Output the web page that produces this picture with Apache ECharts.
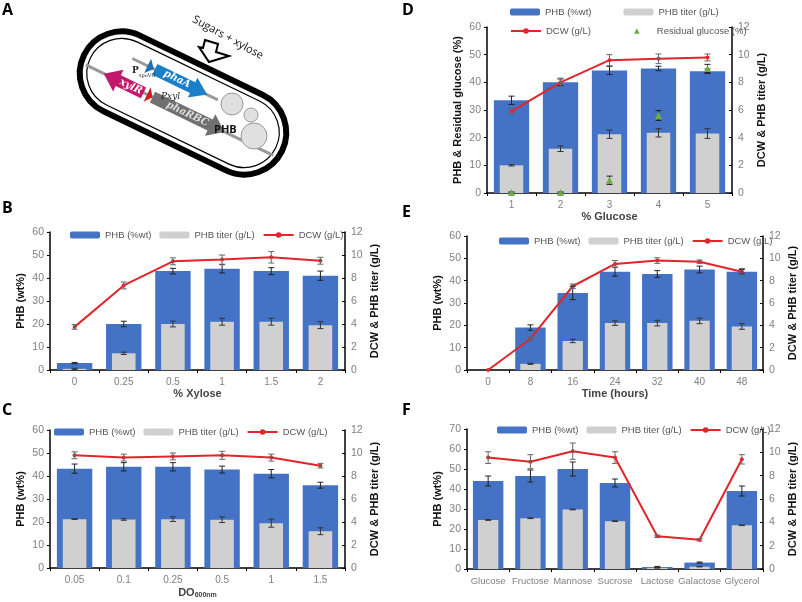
<!DOCTYPE html>
<html>
<head>
<meta charset="utf-8">
<script src="https://cdn.jsdelivr.net/npm/echarts@6/dist/echarts.min.js"></script>
<style>
html, body { margin: 0; padding: 0; background: #fff; }
#main { width: 802px; height: 602px; }
</style>
</head>
<body>
<div id="main"></div>
<script>
// panel B: % xylose
var xyloseCats = ['0', '0.25', '0.5', '1', '1.5', '2'];
var xylosePhb = [3, 20, 43, 44, 43, 41];
var xylosePhbErr = [0.3, 1.2, 1.2, 1.8, 1.5, 2];
var xyloseTiter = [0.1, 1.45, 4.0, 4.2, 4.2, 3.9];
var xyloseTiterErr = [0.05, 0.1, 0.25, 0.3, 0.3, 0.3];
var xyloseDcw = [3.75, 7.35, 9.45, 9.6, 9.8, 9.5];
var xyloseDcwErr = [0.2, 0.3, 0.3, 0.4, 0.5, 0.3];

// panel C: inoculum DO600nm
var doCats = ['0.05', '0.1', '0.25', '0.5', '1', '1.5'];
var doPhb = [43.2, 44, 44, 42.8, 41, 36];
var doPhbErr = [2, 1.8, 1.8, 1.5, 1.8, 1.3];
var doTiter = [4.25, 4.22, 4.25, 4.2, 3.9, 3.2];
var doTiterErr = [0.03, 0.07, 0.2, 0.25, 0.35, 0.3];
var doDcw = [9.8, 9.6, 9.7, 9.8, 9.6, 8.9];
var doDcwErr = [0.3, 0.3, 0.3, 0.35, 0.3, 0.2];

// panel D: % glucose
var glcCats = ['1', '2', '3', '4', '5'];
var glcPhb = [33.5, 40, 44.3, 45, 44];
var glcPhbErr = [1.5, 1.2, 1.5, 0.8, 0.8];
var glcTiter = [2.0, 3.2, 4.25, 4.35, 4.3];
var glcTiterErr = [0.05, 0.2, 0.3, 0.3, 0.35];
var glcDcw = [5.9, 8.0, 9.6, 9.7, 9.8];
var glcDcwErr = [0.2, 0.3, 0.4, 0.35, 0.25];
var glcResidual = [0.2, 0.2, 4.6, 28, 45];
var glcResidualErr = [0.2, 0.2, 1.5, 1.8, 1.5];

// panel E: time course
var timeCats = ['0', '8', '16', '24', '32', '40', '48'];
var timePhb = [0, 19, 34.5, 44, 43, 45, 44];
var timePhbErr = [0, 1.2, 3, 2, 1.5, 1.5, 1];
var timeTiter = [0, 0.55, 2.6, 4.2, 4.2, 4.4, 3.9];
var timeTiterErr = [0, 0.05, 0.15, 0.2, 0.25, 0.25, 0.25];
var timeDcw = [0, 2.8, 7.5, 9.5, 9.8, 9.7, 8.8];
var timeDcwErr = [0, 0.2, 0.2, 0.3, 0.25, 0.15, 0.3];

// panel F: carbon sources
var carbonCats = ['Glucose', 'Fructose', 'Mannose', 'Sucrose', 'Lactose', 'Galactose', 'Glycerol'];
var carbonPhb = [44, 46.5, 50, 43, 1, 3.2, 39];
var carbonPhbErr = [2.5, 3, 3.5, 2, 0.3, 0.3, 2.5];
var carbonTiter = [4.2, 4.35, 5.1, 4.1, 0.1, 0.2, 3.75];
var carbonTiterErr = [0.03, 0.03, 0.03, 0.03, 0.02, 0.02, 0.03];
var carbonDcw = [9.55, 9.2, 10.1, 9.55, 2.8, 2.5, 9.4];
var carbonDcwErr = [0.5, 0.6, 0.7, 0.5, 0.1, 0.1, 0.4];

var BLUE = '#4472c4', GRAY = '#d0d0d0', RED = '#e0262a', GREEN = '#70ad47';
var TICK = '#808080';

var option = { animation: false, grid: [], xAxis: [], yAxis: [], series: [], legend: [], graphic: [] };

function errBars(vals, errs, xi, yi, color) {
    var d = vals.map(function (v, i) { return [i, v, errs[i]]; });
    return {
        type: 'custom', xAxisIndex: xi, yAxisIndex: yi, z: 5, data: d,
        encode: { x: 0, y: 1 },
        renderItem: function (params, api) {
            var e = api.value(2);
            if (!e) return;
            var hi = api.coord([api.value(0), api.value(1) + e]);
            var lo = api.coord([api.value(0), api.value(1) - e]);
            var st = { stroke: color, lineWidth: 1 };
            return { type: 'group', children: [
                { type: 'line', shape: { x1: hi[0], y1: hi[1], x2: lo[0], y2: lo[1] }, style: st },
                { type: 'line', shape: { x1: hi[0] - 3, y1: hi[1], x2: hi[0] + 3, y2: hi[1] }, style: st },
                { type: 'line', shape: { x1: lo[0] - 3, y1: lo[1], x2: lo[0] + 3, y2: lo[1] }, style: st }
            ] };
        }
    };
}

var legendBase = { itemWidth: 30, itemHeight: 7, itemGap: 8, padding: 0, textStyle: { color: '#555', fontSize: 9.5 }, selectedMode: false };

function addPanel(p) {
    var g = option.grid.length;
    option.grid.push({ left: p.left, top: p.top, width: p.width, height: p.height });
    var xi = option.xAxis.length, yi = option.yAxis.length;
    option.xAxis.push({
        type: 'category', gridIndex: g, data: p.cats,
        name: p.xName, nameLocation: 'middle', nameGap: 18,
        nameTextStyle: { color: '#444', fontSize: 11, fontWeight: 'bold', rich: { sub: { fontSize: 7, color: '#444', fontWeight: 'bold', padding: [6, 0, 0, 0] } } },
        axisLine: { lineStyle: { color: '#000', width: 1.5 } },
        axisTick: { show: true, lineStyle: { color: '#000' }, length: 3 },
        axisLabel: { color: TICK, fontSize: p.labelSize || 10, margin: 7, interval: 0 }
    });
    option.xAxis.push({ type: 'category', gridIndex: g, data: p.cats, show: false });
    option.yAxis.push({
        type: 'value', gridIndex: g, min: 0, max: p.leftMax, interval: 10,
        name: p.leftName, nameLocation: 'middle', nameGap: 24, nameRotate: 90,
        nameTextStyle: { color: '#111', fontSize: 11, fontWeight: 'bold' },
        axisLine: { show: true, lineStyle: { color: '#000', width: 1.5 } },
        axisTick: { show: true, lineStyle: { color: '#000' }, length: 3 },
        axisLabel: { color: TICK, fontSize: 10.5, margin: 6 },
        splitLine: { show: false }
    });
    option.yAxis.push({
        type: 'value', gridIndex: g, min: 0, max: 12, interval: 2, position: 'right',
        name: 'DCW & PHB titer (g/L)', nameLocation: 'middle', nameGap: 24, nameRotate: 90,
        nameTextStyle: { color: '#111', fontSize: 11, fontWeight: 'bold' },
        axisLine: { show: true, lineStyle: { color: '#000', width: 1.5 } },
        axisTick: { show: true, inside: true, lineStyle: { color: '#000' }, length: 3 },
        axisLabel: { color: TICK, fontSize: 10.5, margin: 6 },
        splitLine: { show: false }
    });
    option.series.push({ name: 'PHB (%wt)', type: 'bar', xAxisIndex: xi, yAxisIndex: yi, data: p.phb, barWidth: '72%', itemStyle: { color: BLUE }, z: 1 });
    option.series.push({ name: 'PHB titer (g/L)', type: 'bar', xAxisIndex: xi + 1, yAxisIndex: yi + 1, data: p.titer, barWidth: '48%', itemStyle: { color: GRAY }, z: 2 });
    option.series.push({ name: 'DCW (g/L)', type: 'line', xAxisIndex: xi, yAxisIndex: yi + 1, data: p.dcw, symbol: 'circle', symbolSize: 4, itemStyle: { color: RED }, lineStyle: { color: RED, width: 2 }, z: 4 });
    option.series.push(errBars(p.phb, p.phbErr, xi, yi, '#222'));
    option.series.push(errBars(p.titer, p.titerErr, xi, yi + 1, '#333'));
    option.series.push(errBars(p.dcw, p.dcwErr, xi, yi + 1, '#666'));
    var names = ['PHB (%wt)', 'PHB titer (g/L)', 'DCW (g/L)'];
    if (p.residual) {
        option.series.push({ name: 'Residual glucose (%)', type: 'line', xAxisIndex: xi, yAxisIndex: yi, data: p.residual, symbol: 'triangle', symbolSize: 7, itemStyle: { color: GREEN }, lineStyle: { color: GREEN, width: 2, opacity: 0 }, z: 6 });
        option.series.push(errBars(p.residual, p.residualErr, xi, yi, '#222'));
        option.legend.push(Object.assign({}, legendBase, { data: names.slice(0, 2), left: p.legendLeft, top: p.legendTop, itemGap: 32 }));
        option.legend.push(Object.assign({}, legendBase, { data: ['DCW (g/L)', 'Residual glucose (%)'], left: p.legendLeft, top: p.legendTop + 19, itemGap: 30 }));
    } else {
        option.legend.push(Object.assign({}, legendBase, { data: names, left: p.legendLeft, top: p.legendTop }));
    }
}

addPanel({ left: 50, top: 232, width: 295, height: 138, cats: xyloseCats, xName: '% Xylose', leftName: 'PHB (wt%)', leftMax: 60,
    phb: xylosePhb, phbErr: xylosePhbErr, titer: xyloseTiter, titerErr: xyloseTiterErr, dcw: xyloseDcw, dcwErr: xyloseDcwErr, legendLeft: 70, legendTop: 230 });
addPanel({ left: 50, top: 430, width: 295, height: 138, cats: doCats, xName: 'DO{sub|600nm}', leftName: 'PHB (wt%)', leftMax: 60,
    phb: doPhb, phbErr: doPhbErr, titer: doTiter, titerErr: doTiterErr, dcw: doDcw, dcwErr: doDcwErr, legendLeft: 54, legendTop: 427 });
addPanel({ left: 487, top: 27, width: 245, height: 166, cats: glcCats, xName: '% Glucose', leftName: 'PHB & Residual glucose (%)', leftMax: 60,
    phb: glcPhb, phbErr: glcPhbErr, titer: glcTiter, titerErr: glcTiterErr, dcw: glcDcw, dcwErr: glcDcwErr,
    residual: glcResidual, residualErr: glcResidualErr, legendLeft: 510, legendTop: 7 });
addPanel({ left: 467, top: 236, width: 296, height: 134, cats: timeCats, xName: 'Time (hours)', leftName: 'PHB (wt%)', leftMax: 60,
    phb: timePhb, phbErr: timePhbErr, titer: timeTiter, titerErr: timeTiterErr, dcw: timeDcw, dcwErr: timeDcwErr, legendLeft: 499, legendTop: 236 });
addPanel({ left: 467, top: 429, width: 296, height: 140, cats: carbonCats, xName: '', leftName: 'PHB (wt%)', leftMax: 70, labelSize: 9.5,
    phb: carbonPhb, phbErr: carbonPhbErr, titer: carbonTiter, titerErr: carbonTiterErr, dcw: carbonDcw, dcwErr: carbonDcwErr, legendLeft: 497, legendTop: 425 });

// panel letters
[['A', 2, 2], ['B', 2, 200], ['C', 2, 402], ['D', 402, 2], ['E', 402, 204], ['F', 402, 402]].forEach(function (l) {
    option.graphic.push({ type: 'text', left: l[1], top: l[2], style: { text: l[0], font: 'bold 16px "Open Sans", sans-serif', fill: '#000' } });
});

// panel A schematic
option.graphic.push({
    type: 'group', x: 183, y: 103, rotation: -0.45,
    children: [
        { type: 'rect', shape: { x: -110, y: -42, width: 220, height: 84, r: 42 }, style: { fill: '#fff', stroke: '#000', lineWidth: 6 } },
        { type: 'rect', shape: { x: -103, y: -35, width: 206, height: 70, r: 35 }, style: { fill: 'none', stroke: '#000', lineWidth: 1.2 } },
        { type: 'line', shape: { x1: -65, y1: -18, x2: 30, y2: -18 }, style: { stroke: '#999', lineWidth: 3 } },
        { type: 'line', shape: { x1: -104, y1: 8, x2: 104, y2: 8 }, style: { stroke: '#999', lineWidth: 3 } },
        { type: 'polygon', shape: { points: [[-48, -26], [-41, -18], [-48, -10]] }, style: { fill: '#1f6fb5' } },
        { type: 'polygon', shape: { points: [[-40, -24], [2, -24], [2, -29], [18, -18], [2, -7], [2, -12], [-40, -12]] }, style: { fill: '#1a7fc8' } },
        { type: 'text', x: -30, y: -24, style: { text: 'phaA', font: 'italic bold 10px "DejaVu Serif", serif', fill: '#fff' } },
        { type: 'polygon', shape: { points: [[-40, 2], [-68, 2], [-68, -4], [-84, 8], [-68, 20], [-68, 14], [-40, 14]] }, style: { fill: '#c2186b' } },
        { type: 'text', x: -66, y: 3, style: { text: 'xylR', font: 'italic bold 10px "DejaVu Serif", serif', fill: '#fff' } },
        { type: 'polygon', shape: { points: [[-36, 0], [-30, 8], [-36, 16]] }, style: { fill: '#cc1f1f' } },
        { type: 'polygon', shape: { points: [[-30, 2], [34, 2], [34, -4], [50, 8], [34, 20], [34, 14], [-30, 14]] }, style: { fill: '#707070' } },
        { type: 'text', x: -14, y: 3, style: { text: 'phaRBC', font: 'italic bold 10px "DejaVu Serif", serif', fill: '#ddd' } }
    ]
});
option.graphic.push({ type: 'text', x: 132, y: 66, style: { text: 'P', font: 'bold 9px "DejaVu Serif", serif', fill: '#222' } });
option.graphic.push({ type: 'text', x: 139, y: 73, style: { text: 'spoVG', font: '5px "DejaVu Serif", serif', fill: '#222' } });
option.graphic.push({ type: 'text', x: 161, y: 92, style: { text: 'Pxyl', font: 'italic 9px "DejaVu Serif", serif', fill: '#222' } });
option.graphic.push({ type: 'circle', shape: { cx: 232, cy: 104, r: 11 }, style: { fill: '#e0e0e0', stroke: '#999', lineWidth: 1 } });
option.graphic.push({ type: 'circle', shape: { cx: 251, cy: 115, r: 7 }, style: { fill: '#e0e0e0', stroke: '#999', lineWidth: 1 } });
option.graphic.push({ type: 'circle', shape: { cx: 254, cy: 136, r: 13 }, style: { fill: '#e0e0e0', stroke: '#999', lineWidth: 1 } });
option.graphic.push({ type: 'text', x: 214, y: 124, style: { text: 'PHB', font: 'bold 11px "Open Sans", sans-serif', fill: '#111' } });
option.graphic.push({ type: 'polygon', shape: { points: [[205, 40], [218, 44], [216, 52], [229, 56], [209, 62], [199, 47], [203, 48]] }, style: { fill: '#fff', stroke: '#000', lineWidth: 2 } });
option.graphic.push({ type: 'text', x: 196, y: 14, rotation: -0.5, style: { text: 'Sugars + xylose', font: '11px "Open Sans", sans-serif', fill: '#111' } });

var myChart = echarts.init(document.getElementById('main'));
option && myChart.setOption(option);
</script>
</body>
</html>
